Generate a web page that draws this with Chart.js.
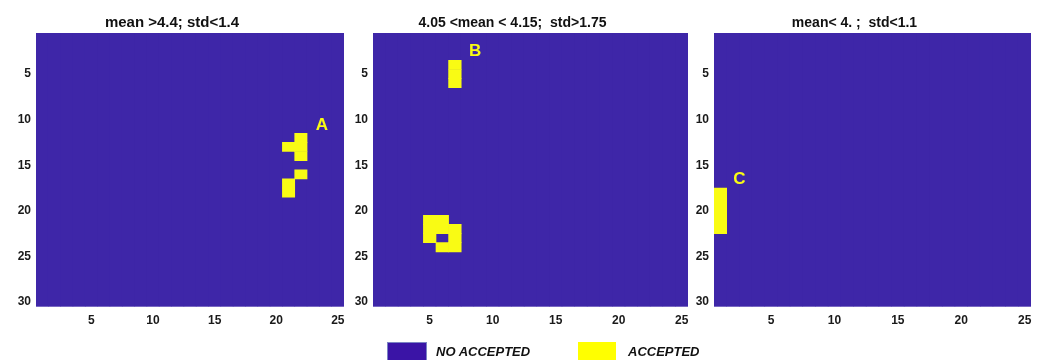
<!DOCTYPE html>
<html>
<head>
<meta charset="utf-8">
<script src="https://cdn.jsdelivr.net/npm/chart.js@4/dist/chart.umd.min.js"></script>
<style>
  html, body { margin: 0; padding: 0; background: #fff; }
  body { width: 1041px; height: 360px; position: relative; overflow: hidden; font-family: "Liberation Sans", Arial, sans-serif; }
  .panel { position: absolute; top: 0; height: 330px; }
  .legend-box { position: absolute; top: 342px; width: 38px; height: 20px; }
  .legend-text { position: absolute; top: 344px; font: italic bold 13px "Liberation Sans", Arial, sans-serif; color: #111; }
</style>
</head>
<body>
<div class="panel" id="p0"><canvas id="c0"></canvas></div>
<div class="panel" id="p1"><canvas id="c1"></canvas></div>
<div class="panel" id="p2"><canvas id="c2"></canvas></div>
<div id="legend"></div>

<script>
// Data
const columns = [1, 2, 3, 4, 5, 6, 7, 8, 9, 10, 11, 12, 13, 14, 15, 16, 17, 18, 19, 20, 21, 22, 23, 24, 25];
const rowCount = 30;
const xTicks = [5, 10, 15, 20, 25];
const yTicks = [5, 10, 15, 20, 25, 30];

const titles = ['mean >4.4; std<1.4', '4.05 <mean < 4.15;  std>1.75', 'mean< 4. ;  std<1.1'];

// accepted cells as [column, row]
const acceptedA = [[22, 12], [22, 13], [22, 14], [21, 13], [22, 16], [21, 17], [21, 18]];
const acceptedB = [[7, 4], [7, 5], [7, 6], [5, 21], [6, 21], [5, 22], [6, 22], [7, 22], [5, 23], [7, 23], [6, 24], [7, 24]];
const acceptedC = [[1, 18], [1, 19], [1, 20], [1, 21], [1, 22]];

const markLetters = ['A', 'B', 'C'];
const markPositions = [[23.7, 10.6], [8.6, 2.5], [2.5, 16.6]];

const seriesNames = ['NO ACCEPTED', 'ACCEPTED'];

// Styles
const blue = 'rgb(62, 38, 168)';
const yellow = 'rgb(249, 251, 20)';
const legendColors = ['#3a14a6', '#ffff00'];
const fontFamily = '"Liberation Sans", Arial, sans-serif';

// Layout: plot-area left / width of each panel
const plotLefts = [36, 373, 714];
const plotWidths = [308, 315, 317];
const titleSizes = [15, 14, 14];
const plotTop = 33;
const axisWidth = 36;
const rightPad = 10;

// Fill plot area + letter labels
const panelPlugin = {
    id: 'panelPlugin',
    beforeDatasetsDraw(chart) {
        const a = chart.chartArea;
        const ctx = chart.ctx;
        ctx.save();
        ctx.fillStyle = blue;
        ctx.fillRect(a.left, a.top, a.right - a.left, a.bottom - a.top);
        ctx.restore();
    },
    afterDatasetsDraw(chart, args, opts) {
        const ctx = chart.ctx;
        const x = chart.scales.x.getPixelForValue(opts.pos[0]);
        const y = chart.scales.y.getPixelForValue(opts.pos[1]);
        ctx.save();
        ctx.fillStyle = yellow;
        ctx.font = 'bold 17px ' + fontFamily;
        ctx.textAlign = 'center';
        ctx.textBaseline = 'middle';
        ctx.fillText(opts.letter, x, y);
        ctx.restore();
    }
};

function makePanel(i, cells) {
    const holder = document.getElementById('p' + i);
    holder.style.left = (plotLefts[i] - axisWidth) + 'px';
    holder.style.width = (axisWidth + plotWidths[i] + rightPad) + 'px';

    const padBottom = 1.5;
    const padTop = plotTop - padBottom - titleSizes[i] * 1.2;

    const ctx = document.getElementById('c' + i).getContext('2d');
    return new Chart(ctx, {
        type: 'bar',
        data: {
            datasets: [{
                label: seriesNames[1],
                data: cells.map(c => ({ x: c[0], y: [c[1] - 0.5, c[1] + 0.5] })),
                backgroundColor: yellow,
                borderWidth: 0,
                order: 0
            }, {
                label: seriesNames[0],
                data: columns.map(c => ({ x: c, y: [0.5, rowCount + 0.5] })),
                backgroundColor: blue,
                borderWidth: 0,
                order: 1
            }]
        },
        options: {
            responsive: true,
            maintainAspectRatio: false,
            animation: false,
            grouped: false,
            barPercentage: 1,
            categoryPercentage: 1,
            layout: { padding: { right: rightPad } },
            plugins: {
                legend: { display: false },
                tooltip: { enabled: false },
                title: {
                    display: true,
                    text: titles[i],
                    color: '#111',
                    font: { family: fontFamily, size: titleSizes[i], weight: 'bold' },
                    padding: { top: padTop, bottom: padBottom }
                },
                panelPlugin: { letter: markLetters[i], pos: markPositions[i] }
            },
            scales: {
                x: {
                    type: 'linear',
                    offset: false,
                    min: 0.5,
                    max: 25.5,
                    grid: { display: false, drawTicks: false },
                    border: { display: false },
                    afterBuildTicks: axis => { axis.ticks = xTicks.map(v => ({ value: v })); },
                    afterFit: axis => { axis.height = 23.5; },
                    ticks: {
                        padding: 7,
                        color: '#1a1a1a',
                        font: { family: fontFamily, size: 12, weight: 'bold' }
                    }
                },
                y: {
                    type: 'linear',
                    reverse: true,
                    min: 0.5,
                    max: rowCount + 0.5,
                    grid: { display: false, drawTicks: false },
                    border: { display: false },
                    afterBuildTicks: axis => { axis.ticks = yTicks.map(v => ({ value: v })); },
                    afterFit: axis => { axis.width = axisWidth; },
                    ticks: {
                        padding: 5,
                        color: '#1a1a1a',
                        font: { family: fontFamily, size: 12, weight: 'bold' }
                    }
                }
            }
        },
        plugins: [panelPlugin]
    });
}

makePanel(0, acceptedA);
makePanel(1, acceptedB);
makePanel(2, acceptedC);

// Legend below the middle panel
const legendBoxLefts = [387, 578];
const legendTextLefts = [436, 628];
const legend = document.getElementById('legend');
legend.innerHTML = seriesNames.map((name, k) => `
    <div class="legend-box" style="left:${legendBoxLefts[k]}px;background:${legendColors[k]};${k === 0 ? 'border:1px solid #7b84c4;' : ''}"></div>
    <div class="legend-text" style="left:${legendTextLefts[k]}px">${name}</div>
`).join('');
</script>
</body>
</html>
